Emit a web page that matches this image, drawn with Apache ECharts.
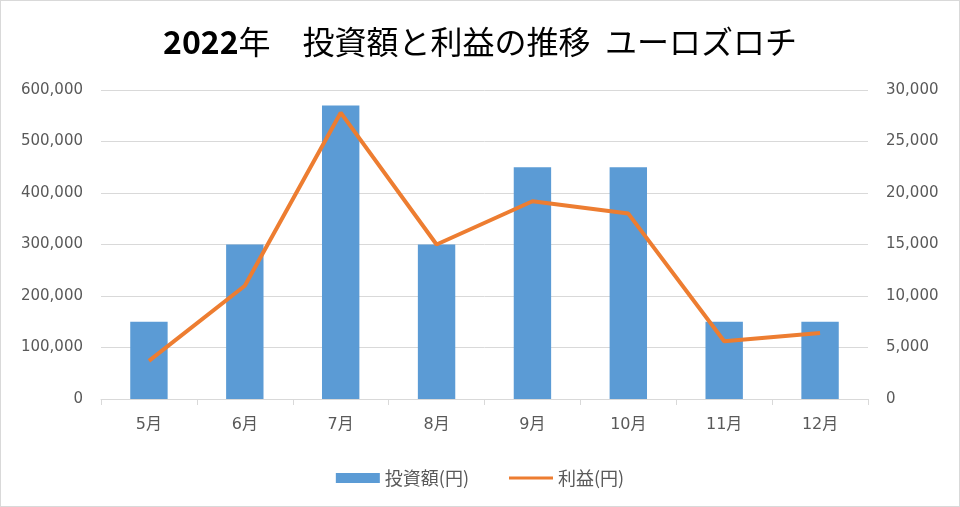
<!DOCTYPE html>
<html><head><meta charset="utf-8">
<script src="https://cdn.jsdelivr.net/npm/echarts@6/dist/echarts.min.js"></script>
<style>html,body{margin:0;padding:0;background:#fff}#c{width:958px;height:505px;border:1px solid #d9d9d9}</style>
</head><body><div id="c"></div>
<script>
const categories = ['5月','6月','7月','8月','9月','10月','11月','12月'];
const investment = [150000,300000,570000,300000,450000,450000,150000,150000];
const profit = [3700,11000,27800,15000,19200,18000,5600,6400];
const seriesNames = ['投資額(円)','利益(円)'];
const titleYear = '2022';
const titleRest = '年　投資額と利益の推移  ユーロズロチ';
const chart = echarts.init(document.getElementById('c'));
const fmt = v => v.toLocaleString('en-US');
const font = "'Noto Sans CJK JP', 'Noto Sans', sans-serif";
const numFont = "'DejaVu Sans', 'Noto Sans CJK JP', sans-serif";
chart.setOption({
  animation:false,
  textStyle:{fontFamily:font},
  title:{text:'{b|' + titleYear + '}{n|' + titleRest + '}',left:'center',top:20,
    textStyle:{fontSize:32,color:'#000',fontFamily:font,
      rich:{b:{fontSize:32,fontWeight:'bold',color:'#000',fontFamily:font},n:{fontSize:32,fontWeight:'normal',color:'#000',fontFamily:font}}}},
  legend:{top:463,left:'center',itemWidth:44,itemHeight:10,itemGap:40,textStyle:{color:'#595959',fontSize:18,fontFamily:font},
    data:[{name:seriesNames[0],icon:'rect'},{name:seriesNames[1],icon:'path://M0,0 L44,0 L44,3 L0,3 Z',itemStyle:{color:'#ed7d31'}}]},
  grid:{left:100,right:91,top:89,bottom:107},
  xAxis:{type:'category',data:categories,axisLine:{lineStyle:{color:'#d9d9d9'}},
    axisTick:{show:true,length:6,lineStyle:{color:'#d9d9d9'}},
    axisLabel:{color:'#595959',fontSize:16,margin:18,fontFamily:numFont}},
  yAxis:[
    {type:'value',min:0,max:600000,interval:100000,axisLine:{show:false},axisTick:{show:false},
     splitLine:{lineStyle:{color:'#d9d9d9'}},axisLabel:{color:'#595959',fontSize:15,formatter:fmt,margin:18,fontFamily:numFont}},
    {type:'value',min:0,max:30000,interval:5000,axisLine:{show:false},axisTick:{show:false},
     splitLine:{show:false},axisLabel:{color:'#595959',fontSize:15,formatter:fmt,margin:18,fontFamily:numFont}}
  ],
  series:[
    {name:seriesNames[0],type:'bar',data:investment,barWidth:'39%',itemStyle:{color:'#5b9bd5'}},
    {name:seriesNames[1],type:'line',yAxisIndex:1,data:profit,symbol:'none',lineStyle:{color:'#ed7d31',width:4},itemStyle:{color:'#ed7d31'}}
  ]
});
</script></body></html>
